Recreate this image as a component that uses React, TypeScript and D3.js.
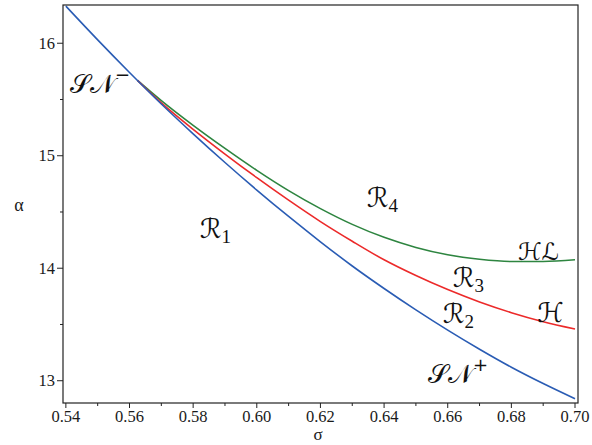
import React from "react";
import * as d3 from "d3";

const W = 592;
const H = 445;

const sigmaGrid = [0.54, 0.55, 0.56, 0.57, 0.58, 0.59, 0.6, 0.61, 0.62, 0.63, 0.64, 0.65, 0.66, 0.67, 0.68, 0.69, 0.7];
const snAlpha = [16.33, 16.03, 15.74, 15.46, 15.195, 14.94, 14.695, 14.46, 14.235, 14.02, 13.82, 13.63, 13.45, 13.28, 13.12, 12.975, 12.84];

const branchSigma = [0.5625, 0.57, 0.58, 0.59, 0.6, 0.61, 0.62, 0.63, 0.64, 0.65, 0.66, 0.67, 0.68, 0.69, 0.7];
const hopfAlpha = [15.67, 15.47, 15.235, 15.015, 14.805, 14.605, 14.415, 14.24, 14.075, 13.935, 13.81, 13.7, 13.605, 13.525, 13.46];
const hlAlpha = [15.67, 15.49, 15.27, 15.065, 14.87, 14.69, 14.53, 14.39, 14.275, 14.185, 14.12, 14.08, 14.06, 14.06, 14.075];

const xMajor = [0.54, 0.56, 0.58, 0.6, 0.62, 0.64, 0.66, 0.68, 0.7];
const xMinor = [0.55, 0.57, 0.59, 0.61, 0.63, 0.65, 0.67, 0.69];
const yMajor = [13, 14, 15, 16];
const yMinor = [13.5, 14.5, 15.5];

const BLUE = "#2a5cb4";
const RED = "#ec2a2a";
const GREEN = "#2e8540";

export default function App() {
  const x = d3.scaleLinear().domain([0.5391, 0.70094]).range([63, 578]);
  const y = d3.scaleLinear().domain([16.34, 12.802]).range([5, 403]);
  const line = d3
    .line<[number, number]>()
    .x((d) => x(d[0]))
    .y((d) => y(d[1]))
    .curve(d3.curveMonotoneX);

  const sn = sigmaGrid.map((s, i) => [s, snAlpha[i]] as [number, number]);
  const hopf = branchSigma.map((s, i) => [s, hopfAlpha[i]] as [number, number]);
  const hl = branchSigma.map((s, i) => [s, hlAlpha[i]] as [number, number]);

  const serif = "'Liberation Serif', 'Times New Roman', serif";
  const script = "'DejaVu Sans', 'DejaVu Serif', serif";
  const ink = "#1a1a1a";

  return (
    <svg width={W} height={H} style={{ display: "block", position: "absolute", left: 0, top: 0 }}>
      <rect width={W} height={H} fill="#fff" />
      <defs>
        <clipPath id="plot">
          <rect x={63} y={5} width={515} height={398} />
        </clipPath>
      </defs>
      <g clipPath="url(#plot)" fill="none" strokeWidth={1.6}>
        <path d={line(hl) || ""} stroke={GREEN} />
        <path d={line(hopf) || ""} stroke={RED} />
        <path d={line(sn) || ""} stroke={BLUE} />
      </g>
      <rect x={63} y={5} width={515} height={398} fill="none" stroke="#222" strokeWidth={1.2} />
      {xMajor.map((t) => (
        <g key={"xm" + t}>
          <line x1={x(t)} x2={x(t)} y1={403} y2={408} stroke="#222" strokeWidth={1} />
          <text x={x(t)} y={422} fontSize={16.5} fontFamily={serif} textAnchor="middle" fill={ink}>
            {t.toFixed(2)}
          </text>
        </g>
      ))}
      {xMinor.map((t) => (
        <line key={"xn" + t} x1={x(t)} x2={x(t)} y1={403} y2={406} stroke="#222" strokeWidth={1} />
      ))}
      {yMajor.map((t) => (
        <g key={"ym" + t}>
          <line x1={57} x2={63} y1={y(t)} y2={y(t)} stroke="#222" strokeWidth={1} />
          <text x={55} y={y(t) + 5.5} fontSize={16.5} fontFamily={serif} textAnchor="end" fill={ink}>
            {t}
          </text>
        </g>
      ))}
      {yMinor.map((t) => (
        <line key={"yn" + t} x1={60} x2={63} y1={y(t)} y2={y(t)} stroke="#222" strokeWidth={1} />
      ))}
      <text x={318} y={440} fontSize={17} fontFamily={serif} textAnchor="middle" fill={ink}>σ</text>
      <text x={19} y={211} fontSize={18} fontFamily={serif} textAnchor="middle" fill={ink}>α</text>

      <g fill="#111" fontFamily={script}>
        <text x={70} y={93} fontSize={26}>
          𝒮𝒩<tspan fontSize={18} dy={-12}>−</tspan>
        </text>
        <text x={200} y={238} fontSize={27}>
          ℛ<tspan fontFamily={serif} fontSize={19} dy={5}>1</tspan>
        </text>
        <text x={367} y={207} fontSize={27}>
          ℛ<tspan fontFamily={serif} fontSize={19} dy={5}>4</tspan>
        </text>
        <text x={453} y={287} fontSize={27}>
          ℛ<tspan fontFamily={serif} fontSize={19} dy={5}>3</tspan>
        </text>
        <text x={443} y={323} fontSize={27}>
          ℛ<tspan fontFamily={serif} fontSize={19} dy={5}>2</tspan>
        </text>
        <text x={518} y={260} fontSize={24}>ℋℒ</text>
        <text x={537} y={322} fontSize={27}>ℋ</text>
        <text x={428} y={383} fontSize={26}>
          𝒮𝒩<tspan fontSize={18} dy={-12}>+</tspan>
        </text>
      </g>
    </svg>
  );
}
